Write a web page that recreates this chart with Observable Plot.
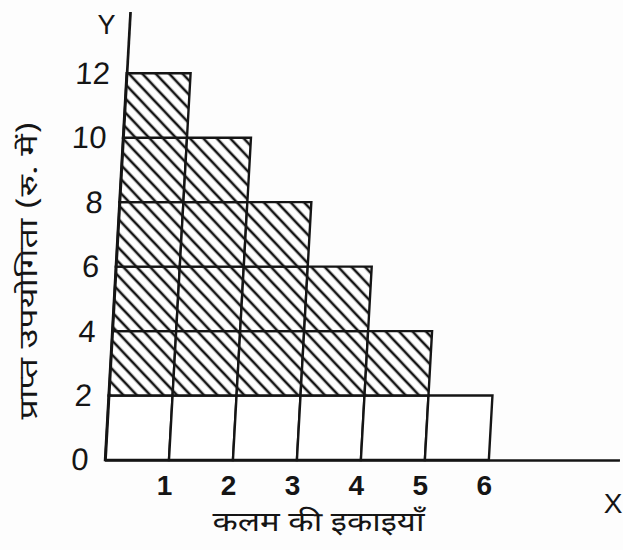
<!DOCTYPE html>
<html>
<head>
<meta charset="utf-8">
<script src="https://cdn.jsdelivr.net/npm/d3@7"></script>
<script src="https://cdn.jsdelivr.net/npm/@observablehq/plot@0.6"></script>
<style>
  html, body { margin: 0; padding: 0; background: #fdfdfd; }
  #chart svg { display: block; }
</style>
</head>
<body>
<div id="chart"></div>
<script>
// ---- data ----
const units = [1, 2, 3, 4, 5, 6];              // कलम की इकाइयाँ
const utility = [12, 10, 8, 6, 4, 2];          // प्राप्त उपयोगिता (रु. में)
const price = 2;                               // price per unit (white part)
const step = 2;                                // grid step of the cells
const yTicks = [0, 2, 4, 6, 8, 10, 12];
const xTicks = [1, 2, 3, 4, 5, 6];
const xTitle = "कलम की इकाइयाँ";
const yTitle = "प्राप्त उपयोगिता (रु. में)";

// cells of each bar
const cells = [];
units.forEach((u, i) => {
  for (let y = 0; y < utility[i]; y += step) {
    cells.push({x1: u - 1, x2: u, y1: y, y2: Math.min(y + step, utility[i]), hatched: y >= price});
  }
});

const ink = "#151515";
const devFont = "'Noto Sans Devanagari', 'Noto Sans', 'Lohit Devanagari', sans-serif";
const numFont = "'Liberation Sans', Arial, sans-serif";

const W = 623, H = 550, mL = 105, mR = 3, mT = 12, mB = 90;

const plot = Plot.plot({
  width: W,
  height: H,
  marginLeft: mL,
  marginRight: mR,
  marginTop: mT,
  marginBottom: mB,
  style: {background: "transparent", color: ink},
  x: {domain: [0, 8.05], axis: null},
  y: {domain: [0, 13.9], axis: null},
  marks: [
    Plot.rect(cells.filter(d => !d.hatched), {x1: "x1", x2: "x2", y1: "y1", y2: "y2", fill: "white", stroke: ink, strokeWidth: 2.4}),
    Plot.rect(cells.filter(d => d.hatched), {x1: "x1", x2: "x2", y1: "y1", y2: "y2", fill: "url(#hatch)", stroke: ink, strokeWidth: 2.4}),
    Plot.ruleX([0], {y1: 0, y2: 13.9, stroke: ink, strokeWidth: 2.7}),
    Plot.ruleY([0], {x1: 0, x2: 8.05, stroke: ink, strokeWidth: 2.7}),
    Plot.axisY(yTicks, {tickSize: 0, tickPadding: 17, fontSize: 31, fontFamily: numFont, label: null, tickFormat: d => String(d)}),
    Plot.axisX(xTicks, {tickSize: 0, tickPadding: 15, fontSize: 28, fontFamily: numFont, fontWeight: "bold", label: null, dx: -5}),
    Plot.text(["Y"], {frameAnchor: "top-left", textAnchor: "middle", dx: 1, dy: 2, fontSize: 27, fontFamily: numFont, fill: ink}),
    Plot.text(["X"], {frameAnchor: "bottom-right", dx: 2, dy: 52, fontSize: 28, fontFamily: numFont, fill: ink}),
    Plot.text([xTitle], {frameAnchor: "bottom-left", dx: 107, dy: 70, textAnchor: "start", fontSize: 27, fontFamily: devFont, fill: ink}),
    Plot.text([yTitle], {frameAnchor: "left", textAnchor: "middle", dx: -77, dy: 34, rotate: -90, fontSize: 25, fontFamily: devFont, fill: ink})
  ]
});

// hatch pattern definition
const NS = "http://www.w3.org/2000/svg";
const defs = document.createElementNS(NS, "defs");
const pat = document.createElementNS(NS, "pattern");
pat.setAttribute("id", "hatch");
pat.setAttribute("patternUnits", "userSpaceOnUse");
pat.setAttribute("width", "9.5");
pat.setAttribute("height", "9.5");
pat.setAttribute("patternTransform", "rotate(45)");
const bg = document.createElementNS(NS, "rect");
bg.setAttribute("width", "9.5");
bg.setAttribute("height", "9.5");
bg.setAttribute("fill", "white");
const ln = document.createElementNS(NS, "line");
ln.setAttribute("x1", "0"); ln.setAttribute("x2", "9.5");
ln.setAttribute("y1", "4.75"); ln.setAttribute("y2", "4.75");
ln.setAttribute("stroke", ink);
ln.setAttribute("stroke-width", "2.5");
pat.appendChild(bg);
pat.appendChild(ln);
defs.appendChild(pat);
plot.insertBefore(defs, plot.firstChild);

// slight hand-drawn lean of the verticals (skew about the x-axis baseline)
const base = H - mB;
const k = Math.tan(-3.2 * Math.PI / 180);
const skew = `matrix(1,0,${k},1,${-k * base},0)`;
plot.querySelectorAll('g[aria-label="rect"], g[aria-label="rule"], g[aria-label="y-axis tick label"]').forEach(g => {
  const wrap = document.createElementNS(NS, "g");
  wrap.setAttribute("transform", skew);
  g.parentNode.insertBefore(wrap, g);
  wrap.appendChild(g);
});

// stretch the titles to the reference lengths
plot.querySelectorAll("text").forEach(t => {
  if (t.textContent === yTitle) { t.setAttribute("textLength", "298"); t.setAttribute("lengthAdjust", "spacingAndGlyphs"); }
  if (t.textContent === xTitle) { t.setAttribute("textLength", "212"); t.setAttribute("lengthAdjust", "spacingAndGlyphs"); }
});

document.getElementById("chart").appendChild(plot);
</script>
</body>
</html>
